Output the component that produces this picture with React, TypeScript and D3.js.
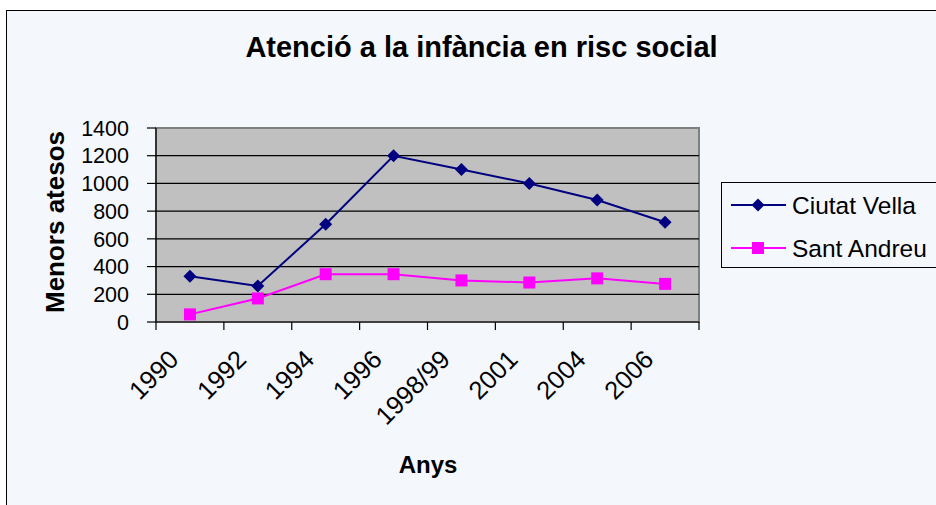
import React from "react";
import * as d3 from "d3";

const categories = ["1990", "1992", "1994", "1996", "1998/99", "2001", "2004", "2006"];
const ciutatVella = [330, 260, 705, 1200, 1100, 1000, 880, 720];
const santAndreu = [55, 170, 345, 345, 300, 285, 315, 275];
const yTicks = [0, 200, 400, 600, 800, 1000, 1200, 1400];
const seriesNames = ["Ciutat Vella", "Sant Andreu"];

const W = 936;
const H = 505;
const FONT = "'Liberation Sans', Arial, sans-serif";
const BG = "#F4F7FC";

const plot = { left: 156, right: 699, top: 128, bottom: 322 };

export default function App() {
  const x = d3.scaleBand<string>().domain(categories).range([plot.left, plot.right]).paddingInner(0).paddingOuter(0);
  const y = d3.scaleLinear().domain([0, 1400]).range([plot.bottom, plot.top]);
  const cx = (c: string) => (x(c) as number) + x.bandwidth() / 2;
  const line = d3
    .line<number>()
    .x((_, i) => cx(categories[i]))
    .y((d) => y(d));

  const boundaries = categories.map((c) => x(c) as number).concat([plot.right]);
  const diamond = (px: number, py: number, r: number) =>
    `M${px},${py - r}L${px + r},${py}L${px},${py + r}L${px - r},${py}Z`;

  return (
    <svg
      width={W}
      height={H}
      style={{ position: "absolute", left: 0, top: 0, background: "#fff" }}
      fontFamily={FONT}
    >
      <rect x={6.5} y={10.5} width={W + 10} height={H + 10} fill={BG} stroke="#000" strokeWidth={1} />
      <text x={481.5} y={57} textAnchor="middle" fontSize={29} fontWeight="bold" fill="#000">
        Atenció a la infància en risc social
      </text>

      {/* plot area */}
      <rect
        x={plot.left}
        y={plot.top}
        width={plot.right - plot.left}
        height={plot.bottom - plot.top}
        fill="#C0C0C0"
        stroke="#808080"
        strokeWidth={2}
      />
      {yTicks
        .filter((t) => t > 0 && t < 1400)
        .map((t) => (
          <line key={t} x1={plot.left} x2={plot.right} y1={y(t)} y2={y(t)} stroke="#000" strokeWidth={1.2} />
        ))}
      {/* axes */}
      <line x1={plot.left} x2={plot.left} y1={plot.top} y2={plot.bottom} stroke="#000" strokeWidth={1.2} />
      <line x1={plot.left} x2={plot.right} y1={plot.bottom} y2={plot.bottom} stroke="#000" strokeWidth={1.2} />
      {yTicks.map((t) => (
        <g key={t}>
          <line x1={plot.left - 9} x2={plot.left} y1={y(t)} y2={y(t)} stroke="#000" strokeWidth={1.2} />
          <text x={129} y={y(t)} dy="0.36em" textAnchor="end" fontSize={21.5} fill="#000">
            {t}
          </text>
        </g>
      ))}
      {boundaries.map((b, i) => (
        <line key={i} x1={b} x2={b} y1={plot.bottom} y2={plot.bottom + 8} stroke="#000" strokeWidth={1.2} />
      ))}
      {categories.map((c) => (
        <text
          key={c}
          transform={`translate(${cx(c) - 10},${361}) rotate(-45)`}
          textAnchor="end"
          fontSize={25.5}
          fill="#000"
        >
          {c}
        </text>
      ))}

      {/* series */}
      <path d={line(ciutatVella) as string} fill="none" stroke="#000080" strokeWidth={2} />
      {ciutatVella.map((v, i) => (
        <path key={i} d={diamond(cx(categories[i]), y(v), 6.5)} fill="#000080" />
      ))}
      <path d={line(santAndreu) as string} fill="none" stroke="#FF00FF" strokeWidth={2} />
      {santAndreu.map((v, i) => (
        <rect key={i} x={cx(categories[i]) - 6} y={y(v) - 6} width={12} height={12} fill="#FF00FF" />
      ))}

      {/* axis titles */}
      <text transform={`translate(64,222) rotate(-90)`} textAnchor="middle" fontSize={26} fontWeight="bold" fill="#000">
        Menors atesos
      </text>
      <text x={428} y={473} textAnchor="middle" fontSize={24} fontWeight="bold" fill="#000">
        Anys
      </text>

      {/* legend */}
      <rect x={721.5} y={182.5} width={240} height={85} fill={BG} stroke="#000" strokeWidth={1} />
      <line x1={731} x2={786} y1={205} y2={205} stroke="#000080" strokeWidth={2} />
      <path d={diamond(758, 205, 6.5)} fill="#000080" />
      <text x={792} y={205} dy="0.36em" fontSize={24.5} fill="#000">
        {seriesNames[0]}
      </text>
      <line x1={731} x2={786} y1={248} y2={248} stroke="#FF00FF" strokeWidth={2} />
      <rect x={752} y={242} width={12} height={12} fill="#FF00FF" />
      <text x={792} y={248} dy="0.36em" fontSize={24.5} fill="#000">
        {seriesNames[1]}
      </text>
    </svg>
  );
}
